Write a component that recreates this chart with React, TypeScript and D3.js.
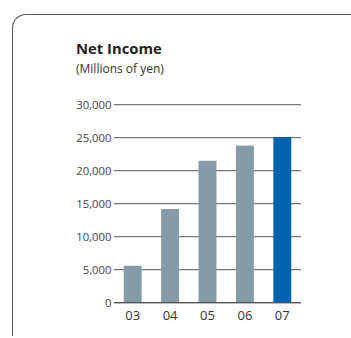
import React from "react";
import * as d3 from "d3";

const categories = ["03", "04", "05", "06", "07"];
const values = [5600, 14200, 21500, 23800, 25100];
const yTicks = [0, 5000, 10000, 15000, 20000, 25000, 30000];

export default function App() {
  const W = 351, H = 338;
  const x = d3.scaleBand<string>().domain(categories).range([114, 301]).paddingInner(0.52).paddingOuter(0.26);
  const y = d3.scaleLinear().domain([0, 30000]).range([302.7, 104.7]);
  const fmt = d3.format(",");
  const font = "'Open Sans', 'Noto Sans', sans-serif";
  return (
    <svg width={W} height={H} style={{ position: "absolute", left: 0, top: 0, display: "block" }}>
      <rect width={W} height={H} fill="#fff" />
      <path d="M12.5,336 L12.5,28 A13.5,13.5 0 0 1 26,14.5 L351,14.5" fill="none" stroke="#5a5a5a" strokeWidth={1.1} />
      <text x={76} y={53.5} fontFamily={font} fontWeight="bold" fontSize={14.8} fill="#222">Net Income</text>
      <text x={76} y={72.5} fontFamily={font} fontSize={12} fill="#333">(Millions of yen)</text>
      {yTicks.map((t) => (
        <g key={t}>
          <line x1={114} x2={301} y1={y(t)} y2={y(t)} stroke="#777" strokeWidth={1.3} />
          <text x={111.5} y={y(t)} dy="0.35em" textAnchor="end" fontFamily={font} fontSize={11.3} fill="#444">{fmt(t)}</text>
        </g>
      ))}
      {categories.map((c, i) => (
        <rect key={c} x={x(c)} width={x.bandwidth()} y={y(values[i])} height={y(0) - y(values[i])}
          fill={i === categories.length - 1 ? "#0063AF" : "#859BA8"} />
      ))}
      <line x1={114} x2={301} y1={y(0)} y2={y(0)} stroke="#555" strokeWidth={1.3} />
      {categories.map((c) => (
        <text key={c} x={(x(c) as number) + x.bandwidth() / 2} y={319.5} textAnchor="middle" fontFamily={font} fontSize={13} fill="#333">{c}</text>
      ))}
    </svg>
  );
}
